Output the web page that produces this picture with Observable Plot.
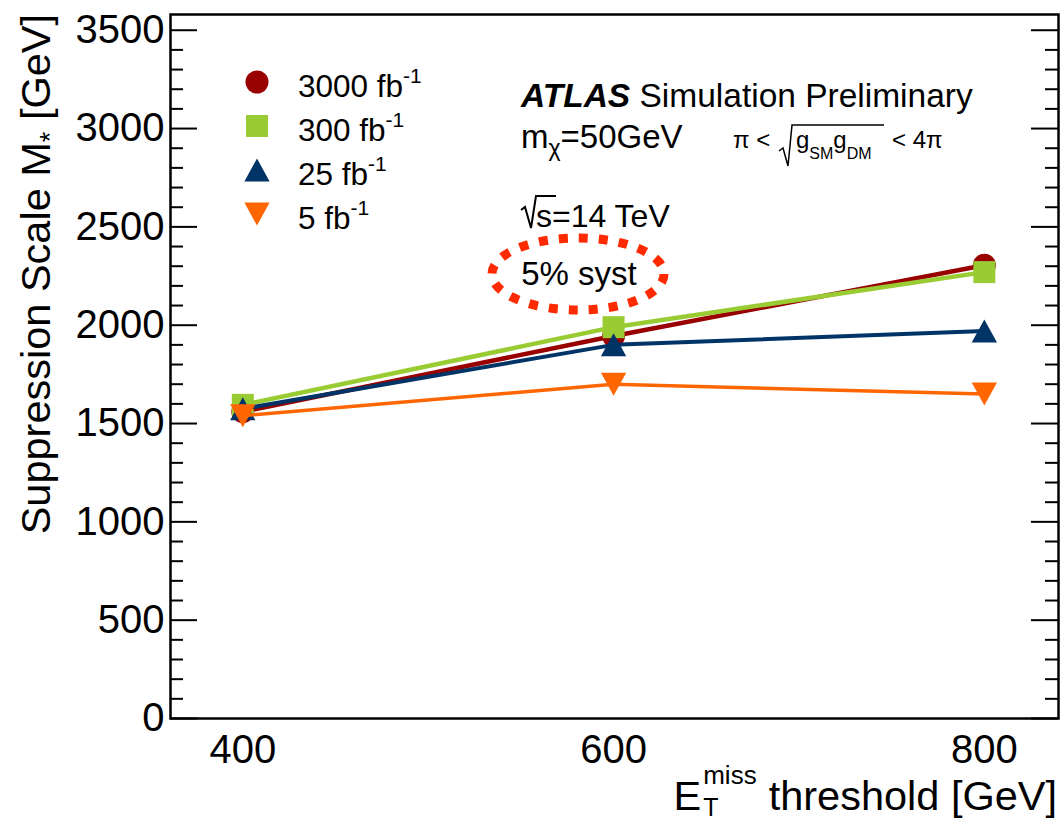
<!DOCTYPE html>
<html><head><meta charset="utf-8">
<script src="https://cdn.jsdelivr.net/npm/d3@7"></script>
<script src="https://cdn.jsdelivr.net/npm/@observablehq/plot@0.6"></script>
<style>body{margin:0;background:#fff} svg{display:block}</style>
</head><body><div id="chart"></div>
<script>
// ---- data ----
const thresholds = [400, 600, 800];
const lumi3000 = [1560, 1945, 2305];
const lumi300  = [1595, 1990, 2270];
const lumi25   = [1575, 1900, 1970];
const lumi5    = [1540, 1700, 1650];
const seriesLabels = ["3000 fb", "300 fb", "25 fb", "5 fb"];
const seriesColors = ["#990000", "#99cc33", "#003366", "#ff6600"];
const xTicks = [400, 600, 800];
const yMajor = [0, 500, 1000, 1500, 2000, 2500, 3000, 3500];
const yMinor = d3.range(100, 3600, 100).filter(v => v % 500 !== 0);

// ---- layout ----
const FONT = "'Liberation Sans', Arial, Helvetica, sans-serif";
const W = 1063, H = 823, mL = 170, mR = 5, mT = 14, mB = 105;
const innerW = W - mL - mR;

// ---- symbols (ROOT-like, centred on bounding box) ----
const rOf = size => Math.sqrt(size / Math.PI);
const squareSym = {draw(c, s){ const r = rOf(s); c.rect(-r, -r, 2*r, 2*r); }};
const upSym = {draw(c, s){ const r = rOf(s); c.moveTo(0, -r); c.lineTo(1.1*r, r); c.lineTo(-1.1*r, r); c.closePath(); }};
const downSym = {draw(c, s){ const r = rOf(s); c.moveTo(0, r); c.lineTo(1.1*r, -r); c.lineTo(-1.1*r, -r); c.closePath(); }};
const symbols = [d3.symbolCircle, squareSym, upSym, downSym];
const radii = [11.5, 11, 11.5, 11.5];
const widths = [4.5, 4.5, 4, 3.5];

const seriesValues = [lumi3000, lumi300, lumi25, lumi5];
const rows = seriesValues.map(vals => thresholds.map((x, i) => ({x, y: vals[i]})));

const seriesMarks = rows.flatMap((data, k) => [
  Plot.line(data, {x: "x", y: "y", stroke: seriesColors[k], strokeWidth: widths[k]}),
  Plot.dot(data, {x: "x", y: "y", fill: seriesColors[k], stroke: "none", symbol: symbols[k], r: radii[k]})
]);

const plot = Plot.plot({
  width: W, height: H,
  marginLeft: mL, marginRight: mR, marginTop: mT, marginBottom: mB,
  style: {fontFamily: FONT, fontSize: "40px", color: "black", background: "white"},
  x: {domain: [361, 840]},
  y: {domain: [0, 3580]},
  marks: [
    Plot.tickY(yMinor, {y: d => d, stroke: "black", strokeWidth: 2, insetRight: innerW - 13}),
    Plot.tickY(yMajor, {y: d => d, stroke: "black", strokeWidth: 2, insetRight: innerW - 27}),
    Plot.tickY(yMinor, {y: d => d, stroke: "black", strokeWidth: 2, insetLeft: innerW - 13}),
    Plot.tickY(yMajor, {y: d => d, stroke: "black", strokeWidth: 2, insetLeft: innerW - 27}),
    Plot.axisY({ticks: yMajor, tickSize: 0, tickPadding: 6, label: null, fontSize: 40, tickFormat: d => String(d)}),
    Plot.axisX({ticks: xTicks, tickSize: 0, tickPadding: 16, label: null, fontSize: 40, tickFormat: d => String(d)}),
    ...seriesMarks,
    Plot.frame({stroke: "black", strokeWidth: 2.5})
  ]
});
document.getElementById("chart").appendChild(plot);

// ---- annotations ----
const svg = d3.select(plot);
const g = svg.append("g").attr("font-family", FONT).attr("fill", "black");

function txt(x, y, size, parts, anchor = "start", transform = null) {
  const t = g.append("text").attr("x", x).attr("y", y).attr("font-size", size).attr("text-anchor", anchor);
  if (transform) t.attr("transform", transform);
  parts.forEach(p => {
    const s = t.append("tspan").text(p.t);
    if (p.size) s.attr("font-size", p.size);
    if (p.dy) s.attr("dy", p.dy);
    if (p.dx) s.attr("dx", p.dx);
    if (p.weight) s.attr("font-weight", p.weight);
    if (p.style) s.attr("font-style", p.style);
  });
  return t;
}

// Y axis title
txt(0, 0, 41.5, [
  {t: "Suppression Scale M"},
  {t: "*", size: 27, dy: 9},
  {t: " [GeV]", size: 41.5, dy: -9}
], "end", `translate(50,${mT}) rotate(-90)`);

// X axis title: main part right-aligned, then E with stacked sub/superscripts to its left
const xMain = txt(1057, 810, 41.5, [{t: "threshold [GeV]"}], "end");
const mainLeft = xMain.node().getBBox().x;
const miss = txt(mainLeft - 12, 784, 26, [{t: "miss"}], "end");
const missLeft = miss.node().getBBox().x;
txt(missLeft, 816, 25, [{t: "T"}]);
txt(missLeft - 2, 810, 41.5, [{t: "E"}], "end");

// Legend
seriesLabels.forEach((lab, i) => {
  g.append("path")
    .attr("d", d3.symbol(symbols[i], Math.PI * radii[i] * radii[i])())
    .attr("transform", `translate(257,${82 + i * 44})`)
    .attr("fill", seriesColors[i]);
  txt(298, 97 + i * 44, 31.5, [{t: lab}, {t: "-1", size: 21, dy: -14}]);
});

// ATLAS label
txt(521, 107, 33.5, [{t: "ATLAS", weight: "bold", style: "italic"}, {t: " Simulation Preliminary"}]);
txt(521, 148, 33, [{t: "m"}, {t: "χ", size: 23, dy: 8}, {t: "=50GeV", size: 33, dy: -8}]);

// coupling range
txt(733, 148, 24, [{t: "π <"}]);
g.append("path").attr("d", "M779,151 L783,148 L788,166 L792,125 L884,125")
  .attr("fill", "none").attr("stroke", "black").attr("stroke-width", 1.5);
txt(796, 148, 24, [{t: "g"}, {t: "SM", size: 16, dy: 11}, {t: "g", size: 24, dy: -11}, {t: "DM", size: 16, dy: 11}]);
txt(892, 148, 24, [{t: "< 4π"}]);

// sqrt(s)
g.append("path").attr("d", "M521,210 L525,207 L531,228 L536,196 L556,196")
  .attr("fill", "none").attr("stroke", "black").attr("stroke-width", 2);
txt(536, 227, 32, [{t: "s=14 TeV"}]);

// 5% syst with dotted ellipse
g.append("ellipse").attr("cx", 578).attr("cy", 274).attr("rx", 86).attr("ry", 36)
  .attr("fill", "none").attr("stroke", "#ff2a00").attr("stroke-width", 9)
  .attr("stroke-dasharray", "9 11");
txt(579, 285, 33, [{t: "5% syst"}], "middle");
</script>
</body></html>
